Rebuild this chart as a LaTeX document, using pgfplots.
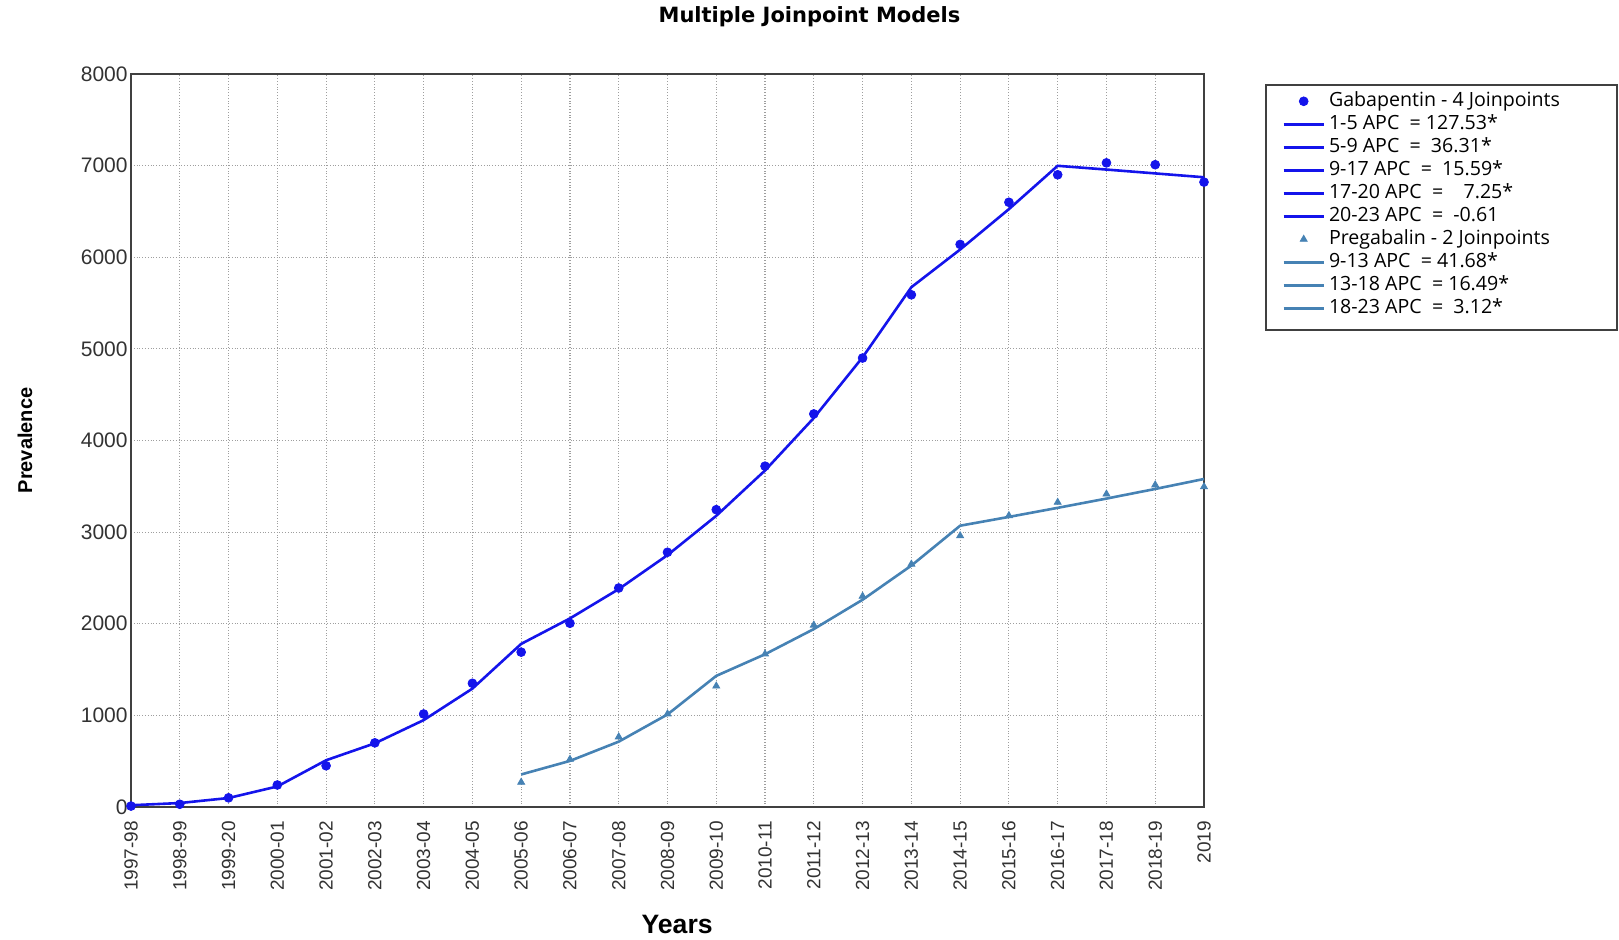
\documentclass[border=0pt]{standalone}
\usepackage{fontspec}
\setmainfont{Liberation Sans}
\newfontfamily\titlefont{DejaVu Sans}
\newfontfamily\legfont{Open Sans}
\usepackage{pgfplots}
\pgfplotsset{compat=1.18}
\usepackage{pgfplotstable}
\definecolor{gaba}{RGB}{20,20,235}
\definecolor{prega}{RGB}{70,130,180}
\definecolor{axgray}{RGB}{64,64,64}
\definecolor{tickgray}{RGB}{50,50,50}

\pgfplotstableread{
x y
0 10
1 30
2 100
3 240
4 450
5 700
6 1015
7 1350
8 1690
9 2005
10 2390
11 2780
12 3245
13 3720
14 4290
15 4900
16 5590
17 6140
18 6600
19 6900
20 7030
21 7010
22 6820
}\gabapts

\pgfplotstableread{
x y
0 19
1 43
2 98
3 224
4 510
5 695
6 948
7 1292
8 1780
9 2058
10 2378
11 2749
12 3178
13 3673
14 4246
15 4908
16 5673
17 6084
18 6525
19 6998
20 6957
21 6915
22 6873
}\gabafit

\pgfplotstableread{
x y
8 270
9 520
10 765
11 1015
12 1320
13 1670
14 1985
15 2300
16 2650
17 2960
18 3180
19 3325
20 3415
21 3515
22 3495
}\pregapts

\pgfplotstableread{
x y
8 355
9 503
10 713
11 1010
12 1431
13 1667
14 1942
15 2262
16 2635
17 3070
18 3166
19 3265
20 3366
21 3471
22 3580
}\pregafit

\begin{document}
\begin{tikzpicture}
\useasboundingbox (0,0) rectangle (809.5pt,470pt);
\node[font=\titlefont\bfseries\fontsize{10.5}{12}\selectfont] at (404.75pt,461.5pt) {Multiple Joinpoint Models};
\begin{axis}[
  at={(65.5pt,66.5pt)}, anchor=south west,
  scale only axis, width=536.5pt, height=366.5pt,
  xmin=0, xmax=22, ymin=0, ymax=8000,
  xtick={0,...,22},
  xticklabels={1997-98,1998-99,1999-20,2000-01,2001-02,2002-03,2003-04,2004-05,2005-06,2006-07,2007-08,2008-09,2009-10,2010-11,2011-12,2012-13,2013-14,2014-15,2015-16,2016-17,2017-18,2018-19,2019},
  ytick={0,1000,...,8000},
  major tick length=0pt,
  /pgf/number format/assume math mode=true,
  /pgf/number format/1000 sep={},
  x tick label style={yshift=-3.5pt, rotate=90, anchor=east, font=\fontsize{9.5}{11}\selectfont, text=tickgray},
  y tick label style={font=\fontsize{10.5}{12}\selectfont, text=tickgray, inner xsep=1.5pt},
  grid=major,
  grid style={densely dotted, black!38, line width=0.55pt},
  axis line style={axgray, line width=1pt},
  xlabel={Years}, ylabel={Prevalence},
  xlabel style={at={(axis description cs:0.509,-0.16)}, anchor=center, font=\bfseries\fontsize{13.3}{15}\selectfont},
  ylabel style={at={(axis description cs:-0.0988,0.5)}, rotate=0, anchor=center, font=\bfseries\fontsize{10}{12}\selectfont},
  legend image code/.code={\draw[mark repeat=2,mark phase=2,#1] plot coordinates {(0pt,0pt) (10pt,0pt) (20pt,0pt)};},
  legend cell align=left,
  legend style={draw=none, fill=none, at={(axis description cs:1.0727,0.979)}, anchor=north west,
    inner sep=0pt, font=\legfont\fontsize{9.8}{11}\selectfont,
    nodes={text height=6.8pt, text depth=2pt, inner ysep=1.35pt, inner xsep=2pt}},
  clip=false,
]
\addplot[only marks, mark=*, mark size=2.2pt, color=gaba] table[x=x,y=y]{\gabapts};
\addlegendentry{Gabapentin - 4 Joinpoints}
\addplot[gaba, line width=1.3pt] table[x=x,y=y]{\gabafit};
\addlegendentry{1-5 APC\ \ = 127.53*}
\addlegendimage{gaba, line width=1.3pt}
\addlegendentry{5-9 APC\ \ =\ \ 36.31*}
\addlegendimage{gaba, line width=1.3pt}
\addlegendentry{9-17 APC\ \ =\ \ 15.59*}
\addlegendimage{gaba, line width=1.3pt}
\addlegendentry{17-20 APC\ \ =\ \ \ \ 7.25*}
\addlegendimage{gaba, line width=1.3pt}
\addlegendentry{20-23 APC\ \ =\ \ -0.61}
\addplot[only marks, mark=triangle*, mark size=2pt, color=prega] table[x=x,y=y]{\pregapts};
\addlegendentry{Pregabalin - 2 Joinpoints}
\addplot[prega, line width=1.3pt] table[x=x,y=y]{\pregafit};
\addlegendentry{9-13 APC\ \ = 41.68*}
\addlegendimage{prega, line width=1.3pt}
\addlegendentry{13-18 APC\ \ = 16.49*}
\addlegendimage{prega, line width=1.3pt}
\addlegendentry{18-23 APC\ \ =\ \ 3.12*}
\draw[black!75, line width=0.8pt] (axis description cs:1.0578,0.985) rectangle (axis description cs:1.385,0.651);
\end{axis}
\end{tikzpicture}
\end{document}
